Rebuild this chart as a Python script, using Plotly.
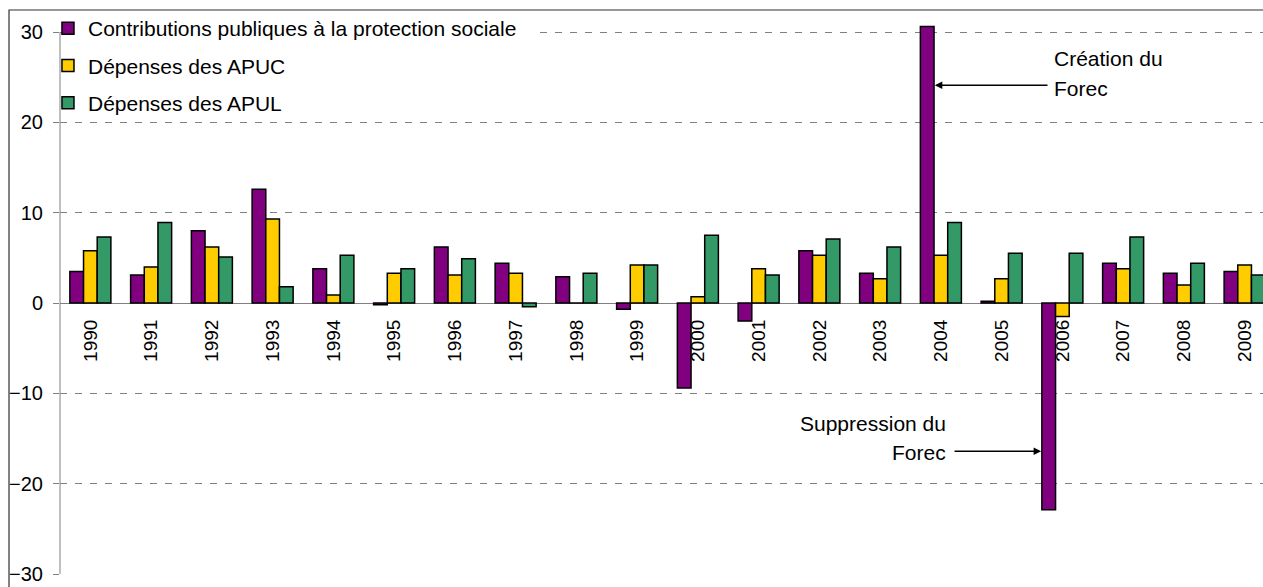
import plotly.graph_objects as go

years = [str(y) for y in range(1990, 2010)]
contrib = [3.5, 3.1, 8.0, 12.6, 3.8, -0.2, 6.2, 4.4, 2.9, -0.7,
           -9.4, -2.0, 5.8, 3.3, 30.6, 0.2, -22.9, 4.4, 3.3, 3.5]
apuc = [5.8, 4.0, 6.2, 9.3, 0.9, 3.3, 3.1, 3.3, 0.0, 4.2,
        0.7, 3.8, 5.3, 2.7, 5.3, 2.7, -1.5, 3.8, 2.0, 4.2]
apul = [7.3, 8.9, 5.1, 1.8, 5.3, 3.8, 4.9, -0.4, 3.3, 4.2,
        7.5, 3.1, 7.1, 6.2, 8.9, 5.5, 5.5, 7.3, 4.4, 3.1]
names = ["Contributions publiques à la protection sociale",
         "Dépenses des APUC", "Dépenses des APUL"]
colors = ["#800080", "#FFCC00", "#339966"]
yticks = [-30, -20, -10, 0, 10, 20, 30]

FONT = "Liberation Sans, Arial, sans-serif"
FS_TXT = 21
FS_YR = 19
FS_Y = 20
fig = go.Figure()
for i, (nm, vals, col) in enumerate(zip(names, [contrib, apuc, apul], colors)):
    fig.add_trace(go.Bar(
        x=list(range(len(years))), y=vals, name=nm, legendgroup=f"g{i}",
        marker=dict(color=col, line=dict(color="black", width=1.5)),
    ))

W, H = 1263, 587
ml, mr, mt, mb = 60, 0, 23, 13
pw = W - ml - mr
ph = H - mt - mb
cat_px = 60.75
xmax = -0.5 + pw / cat_px

fig.update_layout(
    width=W, height=H,
    margin=dict(l=ml, r=mr, t=mt, b=mb, pad=0),
    paper_bgcolor="white", plot_bgcolor="white",
    font=dict(family=FONT, size=FS_TXT, color="black"),
    barmode="group", bargap=0.325, bargroupgap=0,
    showlegend=True,
    legend=dict(x=-0.01, y=(ph + 15) / ph, xanchor="left", yanchor="top",
                bgcolor="rgba(0,0,0,0)", borderwidth=0, traceorder="grouped",
                tracegroupgap=7, font=dict(family=FONT, size=FS_TXT),
                itemwidth=30),
    xaxis=dict(range=[-0.5, xmax], tickmode="array",
               tickvals=list(range(len(years))), ticktext=years,
               tickangle=-90, anchor="free", position=30 / 61,
               showline=False, showgrid=False, zeroline=False,
               ticks="outside", ticklen=8, tickcolor="rgba(0,0,0,0)",
               tickfont=dict(family=FONT, size=FS_YR, color="black")),
    yaxis=dict(range=[-30, 31], tickmode="array", tickvals=yticks,
               ticks="outside", ticklen=6, tickcolor="#808080",
               ticklabelstandoff=6,
               showgrid=True, gridcolor="#808080", gridwidth=1,
               griddash="7px,8px",
               zeroline=True, zerolinecolor="#808080", zerolinewidth=1,
               showline=False,
               tickfont=dict(family=FONT, size=FS_Y, color="black")),
)

# y axis line from -30 to 30
fig.add_shape(type="line", xref="paper", yref="y", x0=0, x1=0, y0=-30, y1=30,
              line=dict(color="#808080", width=1))
# legend background (hides the top gridline behind the legend)
fig.add_shape(type="rect", xref="paper", yref="y",
              x0=2 / pw, x1=(535 - ml) / pw, y0=29.5, y1=30.5,
              line=dict(width=0), fillcolor="white", layer="above")
# outer frame (left and top edges visible)
fx = (9 - ml) / pw
fy_top = (H - mb - 10) / ph
fig.add_shape(type="rect", xref="paper", yref="paper", x0=fx, x1=1.1,
              y0=-0.1, y1=fy_top, line=dict(color="#303030", width=1.2),
              fillcolor="rgba(0,0,0,0)", layer="below")

ann_font = dict(family=FONT, size=FS_TXT, color="black")
# Création du Forec
fig.add_annotation(x=15.83, y=27.1, text="Création du", showarrow=False,
                   xanchor="left", yanchor="middle", font=ann_font)
fig.add_annotation(x=15.83, y=23.8, text="Forec", showarrow=False,
                   xanchor="left", yanchor="middle", font=ann_font)
fig.add_annotation(x=13.90, y=24.1, ax=15.78, ay=24.1, axref="x", ayref="y",
                   text="", showarrow=True, arrowhead=2, arrowsize=1,
                   arrowwidth=1.5, arrowcolor="black", standoff=0)
# Suppression du Forec
fig.add_annotation(x=14.12, y=-13.3, text="Suppression du", showarrow=False,
                   xanchor="right", yanchor="middle", font=ann_font)
fig.add_annotation(x=14.12, y=-16.5, text="Forec", showarrow=False,
                   xanchor="right", yanchor="middle", font=ann_font)
fig.add_annotation(x=15.65, y=-16.4, ax=14.2, ay=-16.4, axref="x", ayref="y",
                   text="", showarrow=True, arrowhead=2, arrowsize=1,
                   arrowwidth=1.5, arrowcolor="black", standoff=0)

fig.write_html("out.html", config={"displayModeBar": False},
               post_script="document.body.style.margin='0px';")
